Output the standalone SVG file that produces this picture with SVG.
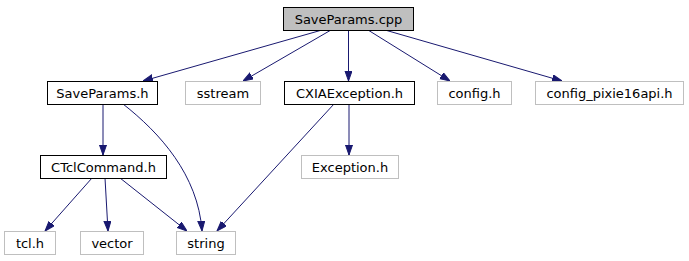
<svg xmlns="http://www.w3.org/2000/svg" width="689" height="261" viewBox="0 0 689 261">
<style>
.box{fill:#ffffff;stroke:#000000;stroke-width:1}
.gray{fill:#ffffff;stroke:#bfbfbf;stroke-width:1}
.root{fill:#bfbfbf;stroke:#000000;stroke-width:1}
text{font-family:"DejaVu Sans",sans-serif;font-size:13px;fill:#000000;text-anchor:middle}
.e{fill:none;stroke:#191970;stroke-width:1;marker-end:url(#arr)}
</style>
<defs>
<marker id="arr" markerUnits="userSpaceOnUse" markerWidth="10" markerHeight="8" refX="10" refY="3.5" orient="auto">
<path d="M0,0 L10,3.5 L0,7 z" fill="#191970" stroke="#191970"/>
</marker>
</defs>
<rect width="689" height="261" fill="#ffffff"/>
<g id="edges">
<path class="e" d="M322,30 L143,81"/>
<path class="e" d="M331,30 L243,81"/>
<path class="e" d="M348.5,30 L348.5,81"/>
<path class="e" d="M368,30 L450,81"/>
<path class="e" d="M385,30 L562,81"/>
<path class="e" d="M103,104 L103,155"/>
<path class="e" d="M123,104 C160,133 198,175 202,231"/>
<path class="e" d="M92,178 L45,231"/>
<path class="e" d="M105,178 L108,231"/>
<path class="e" d="M120,178 L187,231"/>
<path class="e" d="M334,104 L217,231"/>
<path class="e" d="M349,104 L349,155"/>
</g>
<g id="n_root"><rect class="root" x="283.5" y="7.5" width="130" height="23"/><text x="348.5" y="23.5">SaveParams.cpp</text></g>
<g id="n_saveparams_h"><rect class="box" x="47.5" y="81.5" width="110" height="23"/><text x="102.5" y="97.5">SaveParams.h</text></g>
<g id="n_sstream"><rect class="gray" x="185.5" y="81.5" width="75" height="23"/><text x="223" y="97.5">sstream</text></g>
<g id="n_cxia"><rect class="box" x="284.5" y="81.5" width="130" height="23"/><text x="349.5" y="97.5">CXIAException.h</text></g>
<g id="n_config"><rect class="gray" x="437.5" y="81.5" width="74" height="23"/><text x="474.5" y="97.5">config.h</text></g>
<g id="n_pixie"><rect class="gray" x="535.5" y="81.5" width="148" height="23"/><text x="609.5" y="97.5">config_pixie16api.h</text></g>
<g id="n_tclcmd"><rect class="box" x="40.5" y="155.5" width="126" height="23"/><text x="103.5" y="171.5">CTclCommand.h</text></g>
<g id="n_exception"><rect class="gray" x="301.5" y="155.5" width="97" height="23"/><text x="350" y="171.5">Exception.h</text></g>
<g id="n_tcl"><rect class="gray" x="4.5" y="231.5" width="51" height="23"/><text x="30" y="247.5">tcl.h</text></g>
<g id="n_vector"><rect class="gray" x="80.5" y="231.5" width="63" height="23"/><text x="112" y="247.5">vector</text></g>
<g id="n_string"><rect class="gray" x="176.5" y="231.5" width="59" height="23"/><text x="206" y="247.5">string</text></g>
</svg>
